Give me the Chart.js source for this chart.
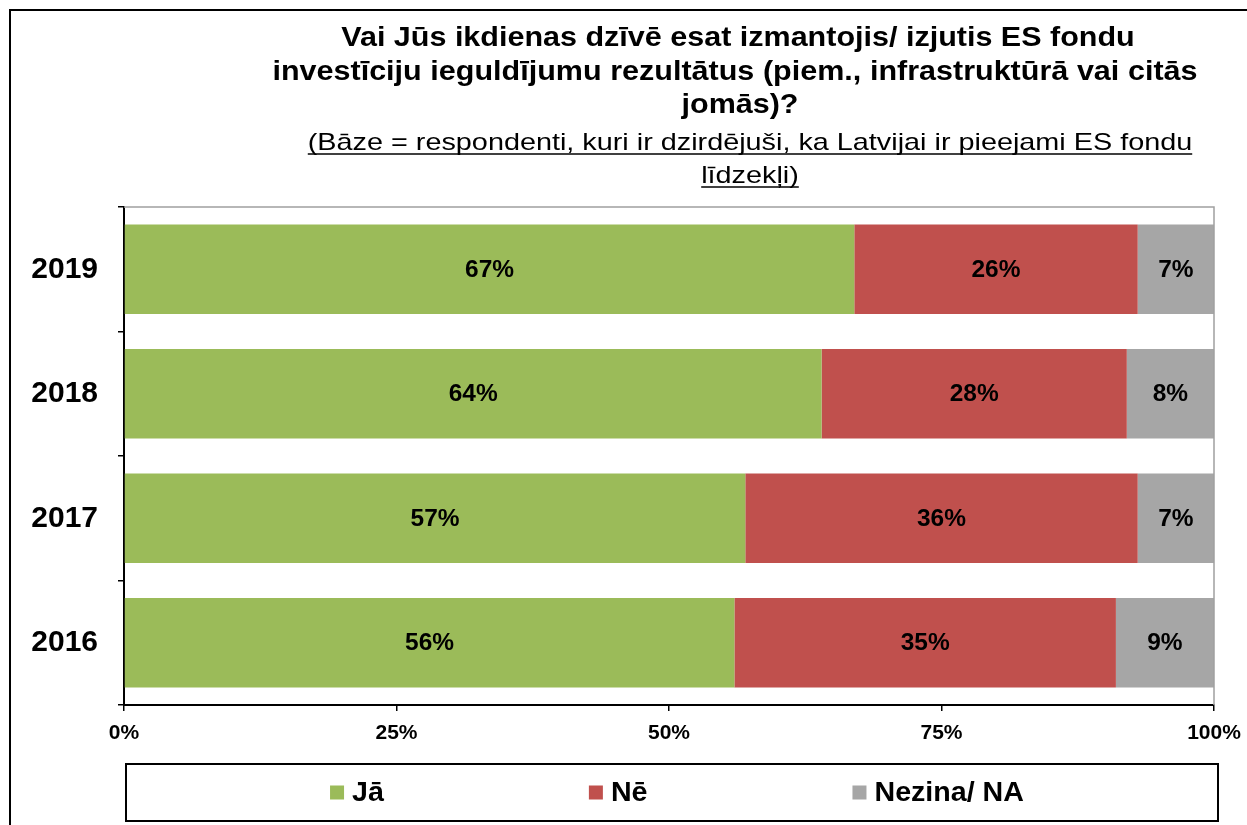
<!DOCTYPE html>
<html lang="lv">
<head>
<meta charset="utf-8">
<title>ES fondu investīciju rezultāti</title>
<script src="https://cdn.jsdelivr.net/npm/chart.js@4.4.1/dist/chart.umd.min.js"></script>
<style>
  html, body { margin: 0; padding: 0; background: #fff; overflow: hidden; }
  #wrap { width: 1247px; height: 825px; }
</style>
</head>
<body>
<div id="wrap"><canvas id="chart" width="1247" height="825"></canvas></div>
<script>
// --- Data ---
const years = ["2019", "2018", "2017", "2016"];
const seriesNames = ["Jā", "Nē", "Nezina/ NA"];
const jaValues = [67, 64, 57, 56];
const neValues = [26, 28, 36, 35];
const nezinaValues = [7, 8, 7, 9];
const xTickValues = [0, 25, 50, 75, 100];

const titleLines = [
  "Vai Jūs ikdienas dzīvē esat izmantojis/ izjutis ES fondu",
  "investīciju ieguldījumu rezultātus (piem., infrastruktūrā vai citās",
  "jomās)?"
];
const baseLines = [
  "(Bāze = respondenti, kuri ir dzirdējuši, ka Latvijai ir pieejami ES fondu",
  "līdzekļi)"
];

// --- Styling ---
const FONT = 'Arial, "Liberation Sans", sans-serif';
const seriesColors = ["#9BBB59", "#C0504D", "#A6A6A6"];

Chart.defaults.font.family = FONT;
Chart.defaults.color = "#000";

// draws centred text widened by sx; with a width the rest of the
// space is spread over the word gaps (justified line)
function drawWide(ctx, text, cx, y, sx, width) {
  const natural = ctx.measureText(text).width * sx;
  ctx.save();
  ctx.textAlign = "left";
  if (!width) {
    ctx.translate(cx - natural / 2, y);
    ctx.scale(sx, 1);
    ctx.fillText(text, 0, 0);
    ctx.restore();
    return { left: cx - natural / 2, right: cx + natural / 2 };
  }
  const words = text.split(" ");
  const ws = words.map(w => ctx.measureText(w).width * sx);
  const gap = (width - ws.reduce((a, b) => a + b, 0)) / (words.length - 1);
  let x = cx - width / 2;
  words.forEach((w, i) => {
    ctx.save();
    ctx.translate(x, y);
    ctx.scale(sx, 1);
    ctx.fillText(w, 0, 0);
    ctx.restore();
    x += ws[i] + gap;
  });
  ctx.restore();
  return { left: cx - width / 2, right: cx + width / 2 };
}

// --- Header: frame, title, underlined base note ---
const headerPlugin = {
  id: "header",
  beforeDraw(chart) {
    const ctx = chart.ctx;
    ctx.save();
    ctx.fillStyle = "#fff";
    ctx.fillRect(0, 0, chart.width, chart.height);
    ctx.strokeStyle = "#000";
    ctx.lineWidth = 2;
    ctx.strokeRect(10, 10, chart.width + 100, chart.height + 100);

    ctx.fillStyle = "#000";
    ctx.textBaseline = "alphabetic";
    ctx.font = "bold 27px " + FONT;
    drawWide(ctx, titleLines[0], 738, 46, 1.13);
    drawWide(ctx, titleLines[1], 735, 80, 1.13, 925);
    drawWide(ctx, titleLines[2], 740, 113, 1.13);

    ctx.font = "24px " + FONT;
    ctx.lineWidth = 1.5;
    [150, 183].forEach((y, i) => {
      const ext = drawWide(ctx, baseLines[i], 750, y, 1.2);
      ctx.beginPath();
      ctx.moveTo(ext.left, y + 4);
      ctx.lineTo(ext.right, y + 4);
      ctx.stroke();
    });
    ctx.restore();
  }
};

// --- Plot border and percentage labels inside the bars ---
const barLabelPlugin = {
  id: "barLabels",
  afterDatasetsDraw(chart) {
    const ctx = chart.ctx;
    const a = chart.chartArea;
    ctx.save();
    ctx.strokeStyle = "#A0A0A0";
    ctx.lineWidth = 1.5;
    ctx.beginPath();
    ctx.moveTo(a.left, a.top);
    ctx.lineTo(a.right, a.top);
    ctx.lineTo(a.right, a.bottom);
    ctx.stroke();

    ctx.font = "bold 24px " + FONT;
    ctx.fillStyle = "#000";
    ctx.textBaseline = "middle";
    chart.data.datasets.forEach((ds, di) => {
      chart.getDatasetMeta(di).data.forEach((bar, i) => {
        const cx = (bar.x + bar.base) / 2;
        drawWide(ctx, ds.data[i] + "%", cx, bar.y + 1, 1.02);
      });
    });
    ctx.restore();
  }
};

// --- Boxed legend under the axis ---
const legendBoxPlugin = {
  id: "legendBox",
  afterDraw(chart) {
    const ctx = chart.ctx;
    const box = { left: 126, top: 764, right: 1218, bottom: 821 };
    ctx.save();
    ctx.strokeStyle = "#000";
    ctx.lineWidth = 2;
    ctx.strokeRect(box.left, box.top, box.right - box.left, box.bottom - box.top);

    ctx.font = "bold 27px " + FONT;
    ctx.textBaseline = "middle";
    const sq = 14, textGap = 8, itemGap = 205, sx = 1.06;
    const items = chart.data.datasets.map(ds => {
      const tw = ctx.measureText(ds.label).width * sx;
      return { label: ds.label, color: ds.backgroundColor, tw, w: sq + textGap + tw };
    });
    const total = items.reduce((s, it) => s + it.w, 0) + itemGap * (items.length - 1);
    let x = (box.left + box.right) / 2 + 5 - total / 2;
    const cy = (box.top + box.bottom) / 2;
    items.forEach(it => {
      ctx.fillStyle = it.color;
      ctx.fillRect(x, cy - sq / 2, sq, sq);
      ctx.fillStyle = "#000";
      drawWide(ctx, it.label, x + sq + textGap + it.tw / 2, cy + 1, sx);
      x += it.w + itemGap;
    });
    ctx.restore();
  }
};

const valueSets = [jaValues, neValues, nezinaValues];

new Chart(document.getElementById("chart"), {
  type: "bar",
  data: {
    labels: years,
    datasets: seriesNames.map((name, i) => ({
      label: name,
      data: valueSets[i],
      backgroundColor: seriesColors[i],
      borderWidth: 0,
      categoryPercentage: 1,
      barPercentage: 0.72
    }))
  },
  options: {
    indexAxis: "y",
    responsive: false,
    animation: false,
    layout: { padding: { top: 207, right: 33, bottom: 80, left: 0 } },
    plugins: {
      legend: { display: false },
      title: { display: false },
      tooltip: { enabled: false }
    },
    scales: {
      x: {
        stacked: true,
        min: 0,
        max: 100,
        afterBuildTicks(scale) {
          scale.ticks = xTickValues.map(v => ({ value: v }));
        },
        afterFit(scale) {
          scale.height = 40;
          scale.paddingLeft = 0;
          scale.paddingRight = 0;
        },
        grid: { drawOnChartArea: false, color: "#000", tickLength: 6, lineWidth: 1.5 },
        border: { color: "#000", width: 2 },
        ticks: {
          padding: 10,
          font: { size: 21, weight: "bold" },
          color: "#000",
          callback: v => v + "%"
        }
      },
      y: {
        stacked: true,
        afterFit(scale) { scale.width = 124; },
        grid: { drawOnChartArea: false, color: "#000", tickLength: 6, lineWidth: 1.5, offset: true },
        border: { color: "#000", width: 2 },
        ticks: {
          padding: 20,
          font: { size: 30, weight: "bold" },
          color: "#000"
        }
      }
    }
  },
  plugins: [headerPlugin, barLabelPlugin, legendBoxPlugin]
});
</script>
</body>
</html>
